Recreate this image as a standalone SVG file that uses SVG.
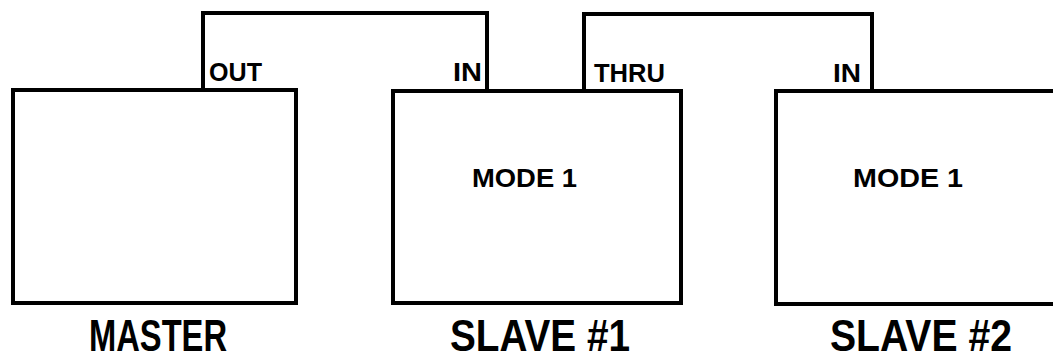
<svg xmlns="http://www.w3.org/2000/svg" width="1053" height="360" viewBox="0 0 1053 360">
<style>
.box{fill:none;stroke:#000;stroke-width:4}
.wire{fill:none;stroke:#000;stroke-width:4}
.lbl{font-family:"Liberation Sans",Arial,sans-serif;font-weight:bold;font-size:25px;fill:#000}
.name{font-family:"Liberation Sans",Arial,sans-serif;font-weight:bold;font-size:44px;fill:#000}
</style>
<rect width="1053" height="360" fill="#fff"/>
<g id="connectors">
<path class="wire" d="M203 90 V13 H487 V91"/>
<path class="wire" d="M584 91 V14 H872 V91"/>
</g>
<g id="master">
<rect class="box" x="13" y="90" width="283" height="213"/>
<text class="lbl" x="209" y="81" textLength="53" lengthAdjust="spacingAndGlyphs">OUT</text>
<text class="name" x="89" y="351" textLength="138" lengthAdjust="spacingAndGlyphs">MASTER</text>
</g>
<g id="slave1">
<rect class="box" x="393" y="91" width="288" height="212"/>
<text class="lbl" x="453" y="81" textLength="29" lengthAdjust="spacingAndGlyphs">IN</text>
<text class="lbl" x="594" y="82" textLength="71" lengthAdjust="spacingAndGlyphs">THRU</text>
<text class="lbl" x="472" y="187" textLength="105" lengthAdjust="spacingAndGlyphs">MODE 1</text>
<text class="name" x="450" y="351" textLength="180" lengthAdjust="spacingAndGlyphs">SLAVE #1</text>
</g>
<g id="slave2">
<rect class="box" x="776" y="91" width="290" height="213"/>
<text class="lbl" x="833" y="82" textLength="28" lengthAdjust="spacingAndGlyphs">IN</text>
<text class="lbl" x="853" y="187" textLength="110" lengthAdjust="spacingAndGlyphs">MODE 1</text>
<text class="name" x="830" y="351" textLength="182" lengthAdjust="spacingAndGlyphs">SLAVE #2</text>
</g>
</svg>
